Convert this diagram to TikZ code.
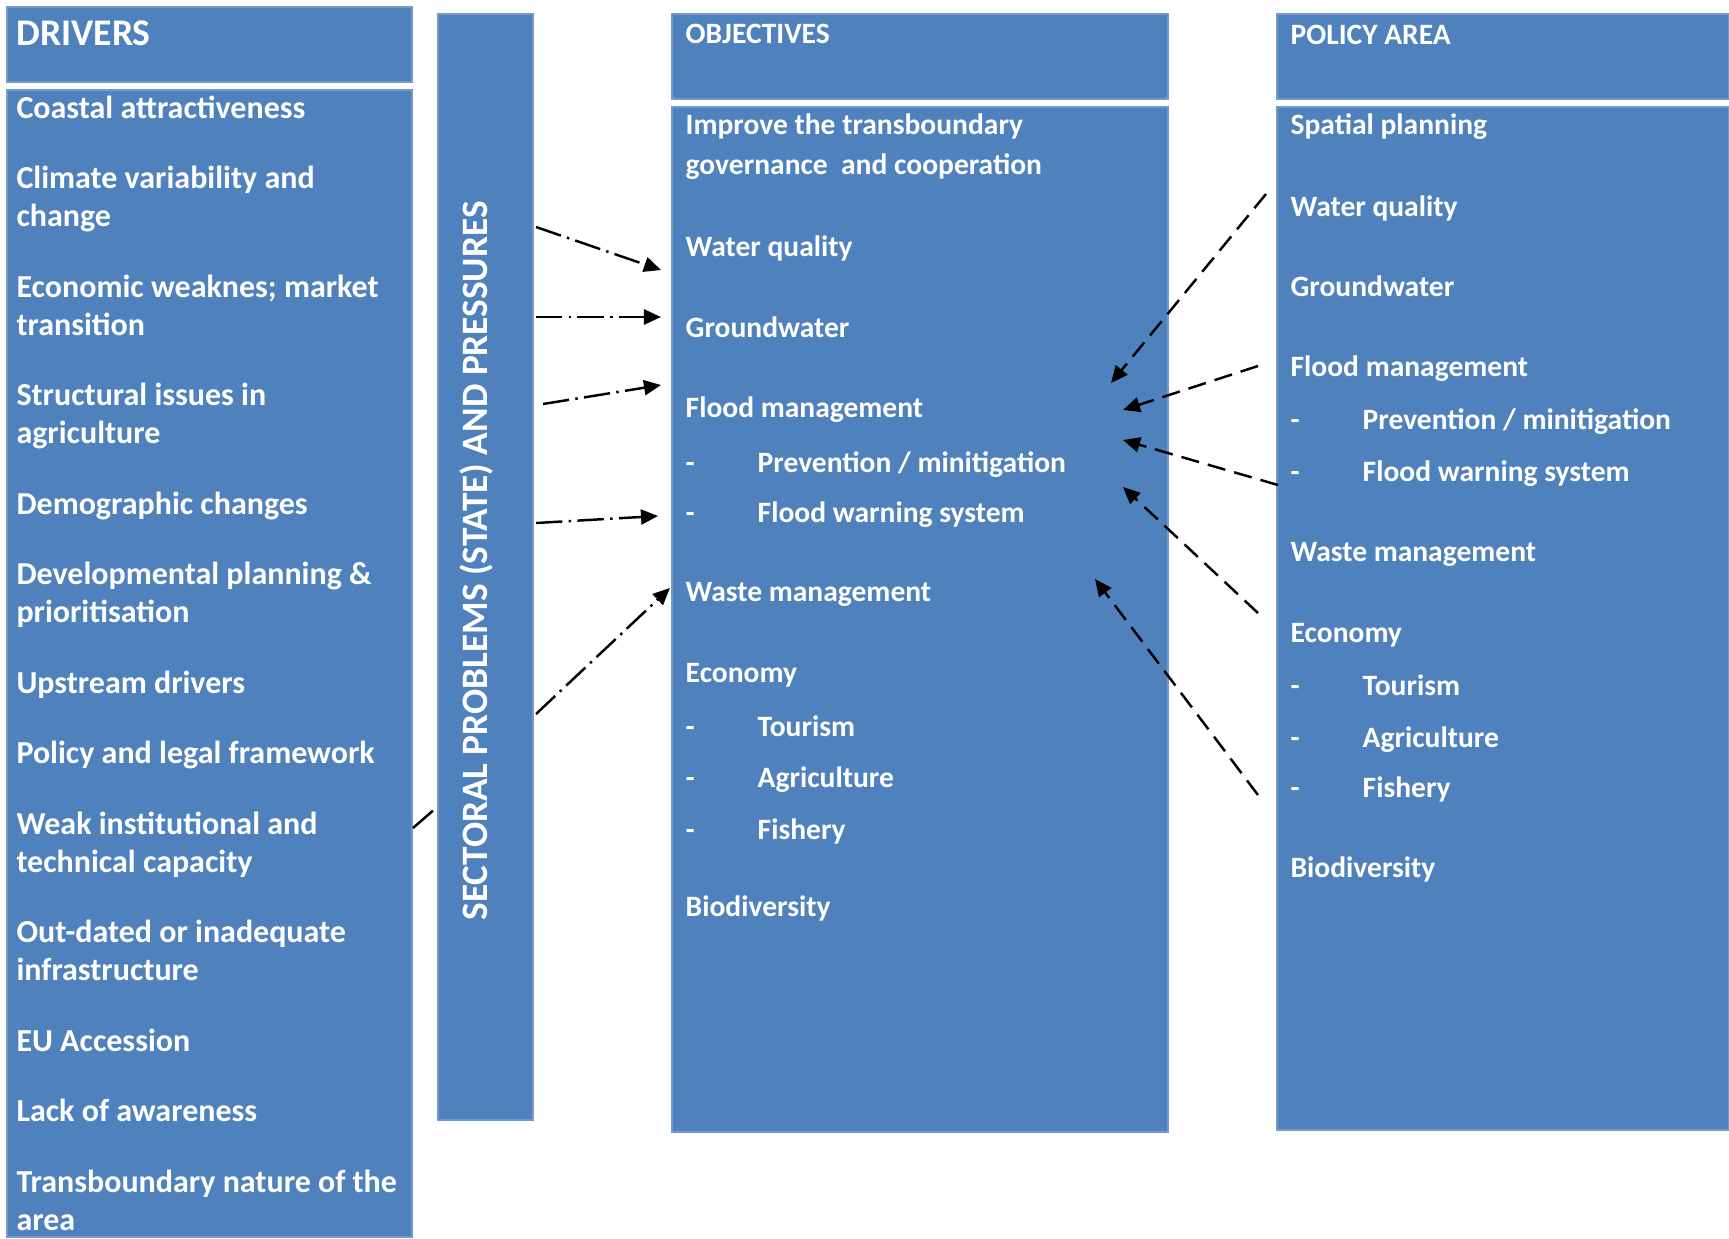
\documentclass[tikz,border=0pt]{standalone}
\usepackage{fontspec}
\setmainfont{Carlito}
\usetikzlibrary{arrows.meta,fit}
\definecolor{boxblue}{HTML}{4F81BD}
\definecolor{boxedge}{HTML}{7599CB}
\newcommand{\itemfont}{\fontsize{9.1}{10.8}\selectfont\bfseries}
\newcommand{\objfont}{\fontsize{8.4}{11.4}\selectfont\bfseries}
\newcommand{\headfont}{\fontsize{8.4}{10}\selectfont\bfseries}
\newcommand{\sectorfont}{\fontsize{10.6}{13}\selectfont\bfseries}
\begin{document}
\begin{tikzpicture}[x=0.01cm,y=-0.01cm,inner sep=0pt,outer sep=0pt,
colbox/.style={fill=boxblue,draw=boxedge,line width=0.3pt},
itemtext/.style={anchor=base west,text=white,align=left,font=\itemfont},
objtext/.style={anchor=base west,text=white,align=left,font=\objfont},
headtext/.style={anchor=base west,text=white,font=\headfont},
pressureline/.style={line width=0.7pt,dash pattern=on 7.5pt off 1.8pt on 0.7pt off 1.8pt},
pressure/.style={pressureline,-{Triangle[length=0.17cm,width=0.15cm]}},
policyline/.style={line width=0.7pt,dash pattern=on 5.2pt off 2.6pt,-{Triangle[length=0.17cm,width=0.15cm]}}]

\useasboundingbox (0,0) rectangle (1729,1239);

% columns
\node[colbox,fit={(7,7) (412,82)}] (drvhead) {};
\node[colbox,fit={(7,90) (412,1237)}] (drv) {};
\node[colbox,fit={(438,14) (533,1120)}] (sector) {};
\node[colbox,fit={(672,14) (1168,99)}] (objhead) {};
\node[colbox,fit={(672,107) (1168,1132)}] (obj) {};
\node[colbox,fit={(1277,14) (1729,99)}] (polhead) {};
\node[colbox,fit={(1277,107) (1729,1130)}] (pol) {};

% drivers (two-line items sit on their last baseline)
\draw (16.5,45) node[headtext,font=\fontsize{10.7}{12}\selectfont\bfseries] (drvtitle) {DRIVERS};
\draw (16.5,118) node[itemtext] (d1) {Coastal attractiveness};
\draw (16.5,226.5) node[itemtext] (d2) {Climate variability and\\change};
\draw (16.5,335) node[itemtext] (d3) {Economic weaknes; market\\transition};
\draw (16.5,443.5) node[itemtext] (d4) {Structural issues in\\agriculture};
\draw (16.5,514) node[itemtext] (d5) {Demographic changes};
\draw (16.5,622.5) node[itemtext] (d6) {Developmental planning \&\\prioritisation};
\draw (16.5,693) node[itemtext] (d7) {Upstream drivers};
\draw (16.5,763.5) node[itemtext] (d8) {Policy and legal framework};
\draw (16.5,872) node[itemtext] (d9) {Weak institutional and\\technical capacity};
\draw (16.5,980.5) node[itemtext] (d10) {Out-dated or inadequate\\infrastructure};
\draw (16.5,1051) node[itemtext] (d11) {EU Accession};
\draw (16.5,1121.5) node[itemtext] (d12) {Lack of awareness};
\draw (16.5,1230) node[itemtext] (d13) {Transboundary nature of the\\area};

% sectoral problems
\draw (487,561) node[rotate=90,anchor=base,text=white,font=\sectorfont] (sectitle) {SECTORAL PROBLEMS (STATE) AND PRESSURES};

% objectives
\draw (685.7,43) node[headtext] (objtitle) {OBJECTIVES};
\draw (685.7,174.5) node[objtext] (o1) {Improve the transboundary\\governance~ and cooperation};
\draw (685.7,256) node[objtext] (o2) {Water quality};
\draw (685.7,337.5) node[objtext] (o3) {Groundwater};
\draw (685.7,417.5) node[objtext] (o4) {Flood management};
\draw (685.7,472) node[objtext] (o4a) {-};
\draw (757.7,472) node[objtext] (o4at) {Prevention / minitigation};
\draw (685.7,522.5) node[objtext] (o4b) {-};
\draw (757.7,522.5) node[objtext] (o4bt) {Flood warning system};
\draw (685.7,601) node[objtext] (o5) {Waste management};
\draw (685.7,682) node[objtext] (o6) {Economy};
\draw (685.7,736) node[objtext] (o6a) {-};
\draw (757.7,736) node[objtext] (o6at) {Tourism};
\draw (685.7,787) node[objtext] (o6b) {-};
\draw (757.7,787) node[objtext] (o6bt) {Agriculture};
\draw (685.7,839) node[objtext] (o6c) {-};
\draw (757.7,839) node[objtext] (o6ct) {Fishery};
\draw (685.7,916) node[objtext] (o7) {Biodiversity};

% policy area
\draw (1290.6,44) node[headtext] (poltitle) {POLICY AREA};
\draw (1290.6,134) node[objtext] (q1) {Spatial planning};
\draw (1290.6,216) node[objtext] (q2) {Water quality};
\draw (1290.6,296) node[objtext] (q3) {Groundwater};
\draw (1290.6,376) node[objtext] (q4) {Flood management};
\draw (1290.6,429) node[objtext] (q4a) {-};
\draw (1362.7,429) node[objtext] (q4at) {Prevention / minitigation};
\draw (1290.6,481) node[objtext] (q4b) {-};
\draw (1362.7,481) node[objtext] (q4bt) {Flood warning system};
\draw (1290.6,561) node[objtext] (q5) {Waste management};
\draw (1290.6,642) node[objtext] (q6) {Economy};
\draw (1290.6,695) node[objtext] (q6a) {-};
\draw (1362.7,695) node[objtext] (q6at) {Tourism};
\draw (1290.6,747) node[objtext] (q6b) {-};
\draw (1362.7,747) node[objtext] (q6bt) {Agriculture};
\draw (1290.6,797) node[objtext] (q6c) {-};
\draw (1362.7,797) node[objtext] (q6ct) {Fishery};
\draw (1290.6,877) node[objtext] (q7) {Biodiversity};

% pressures -> objectives
\coordinate (ps1) at (536,227);   \coordinate (pe1) at (661,270);
\coordinate (ps2) at (536,317);   \coordinate (pe2) at (661,317);
\coordinate (ps3) at (543,404);   \coordinate (pe3) at (661,385);
\coordinate (ps4) at (536,523);   \coordinate (pe4) at (658,516);
\coordinate (ps5) at (536,714);   \coordinate (pe5) at (670,588);
\coordinate (dw1) at (413,828);   \coordinate (dw2) at (436,808);
\draw[pressure] (ps1) -- (pe1);
\draw[pressure] (ps2) -- (pe2);
\draw[pressure] (ps3) -- (pe3);
\draw[pressure] (ps4) -- (pe4);
\draw[pressure] (ps5) -- (pe5);
\draw[pressureline] (dw1) -- (dw2);

% policy -> objectives
\coordinate (qs1) at (1266,194);  \coordinate (qe1) at (1111,383);
\coordinate (qs2) at (1258,366);  \coordinate (qe2) at (1123,410);
\coordinate (qs3) at (1278,485);  \coordinate (qe3) at (1123,440);
\coordinate (qs4) at (1258,613);  \coordinate (qe4) at (1123,487);
\coordinate (qs5) at (1258,795);  \coordinate (qe5) at (1095,579);
\draw[policyline] (qs1) -- (qe1);
\draw[policyline] (qs2) -- (qe2);
\draw[policyline] (qs3) -- (qe3);
\draw[policyline] (qs4) -- (qe4);
\draw[policyline] (qs5) -- (qe5);
\end{tikzpicture}
\end{document}
